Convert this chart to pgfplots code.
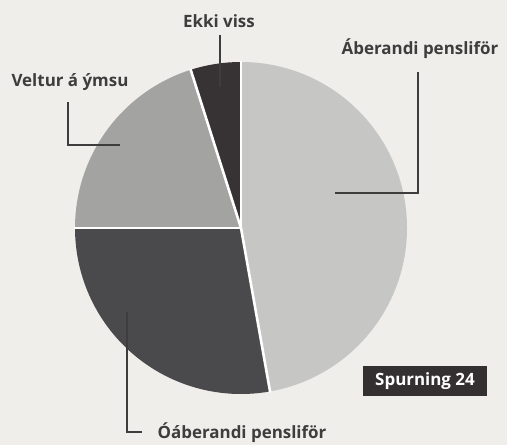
\documentclass[border=0pt]{standalone}
\usepackage{pgfplots}
\usepackage{pgfplotstable}
\pgfplotsset{compat=1.18}
\usepackage{fontspec}
\setmainfont{Open Sans}
\definecolor{bg}{RGB}{239,238,234}
\definecolor{sliceA}{RGB}{198,198,196}
\definecolor{sliceB}{RGB}{74,73,75}
\definecolor{sliceC}{RGB}{163,163,161}
\definecolor{sliceD}{RGB}{55,50,52}
\definecolor{txt}{RGB}{62,60,60}
\definecolor{boxc}{RGB}{52,47,49}

\pgfplotstableread{
slice value
Aberandi 47.2
Oaberandi 27.8
Veltur 20.1
Ekki 4.9
}\piedata
\pgfplotstablegetelem{0}{value}\of\piedata \let\va\pgfplotsretval
\pgfplotstablegetelem{1}{value}\of\piedata \let\vb\pgfplotsretval
\pgfplotstablegetelem{2}{value}\of\piedata \let\vc\pgfplotsretval
\pgfplotstablegetelem{3}{value}\of\piedata \let\vd\pgfplotsretval
\pgfmathsetmacro\aA{90}
\pgfmathsetmacro\aB{\aA-3.6*\va}
\pgfmathsetmacro\aC{\aB-3.6*\vb}
\pgfmathsetmacro\aD{\aC-3.6*\vc}
\pgfmathsetmacro\aE{\aD-3.6*\vd}

\begin{document}
\begin{tikzpicture}
\begin{axis}[
  hide axis, scale only axis,
  x=1bp, y=1bp,
  xmin=0, xmax=507, ymin=0, ymax=445,
  clip=false,
]
\fill[bg] (axis cs:0,0) rectangle (axis cs:507,445);
% pie slices
\fill[sliceA] (axis cs:241,217) -- ++(\aA:166bp) arc[start angle=\aA, end angle=\aB, radius=166bp] -- cycle;
\fill[sliceB] (axis cs:241,217) -- ++(\aB:166bp) arc[start angle=\aB, end angle=\aC, radius=166bp] -- cycle;
\fill[sliceC] (axis cs:241,217) -- ++(\aC:166bp) arc[start angle=\aC, end angle=\aD, radius=166bp] -- cycle;
\fill[sliceD] (axis cs:241,217) -- ++(\aD:166bp) arc[start angle=\aD, end angle=\aE, radius=166bp] -- cycle;
% separators
\draw[white, line width=2.6bp] (axis cs:241,217) -- ++(\aA:167bp);
\draw[white, line width=2.6bp] (axis cs:241,217) -- ++(\aB:167bp);
\draw[white, line width=2.6bp] (axis cs:241,217) -- ++(\aC:167bp);
\draw[white, line width=2.6bp] (axis cs:241,217) -- ++(\aD:167bp);
% leader lines
\draw[txt, line width=1.4bp] (axis cs:220,410) -- (axis cs:220,358);
\draw[txt, line width=1.4bp] (axis cs:418,373) -- (axis cs:418,252) -- (axis cs:335,252);
\draw[txt, line width=1.4bp] (axis cs:68,343) -- (axis cs:68,300) -- (axis cs:120,300);
\draw[txt, line width=1.4bp] (axis cs:127,133) -- (axis cs:127,13) -- (axis cs:142,13);
% labels
\node[txt, font=\fontsize{17}{19}\selectfont\bfseries] at (axis cs:219,424) {Ekki viss};
\node[txt, font=\fontsize{17}{19}\selectfont\bfseries] at (axis cs:420,396) {Áberandi pensliför};
\node[txt, font=\fontsize{17}{19}\selectfont\bfseries] at (axis cs:70,363) {Veltur á ýmsu};
\node[txt, font=\fontsize{17}{19}\selectfont\bfseries] at (axis cs:242,12) {Óáberandi pensliför};
\fill[boxc] (axis cs:363,49) rectangle (axis cs:487,79);
\node[white, font=\fontsize{17}{19}\selectfont\bfseries] at (axis cs:425,64) {Spurning 24};
\end{axis}
\end{tikzpicture}
\end{document}
